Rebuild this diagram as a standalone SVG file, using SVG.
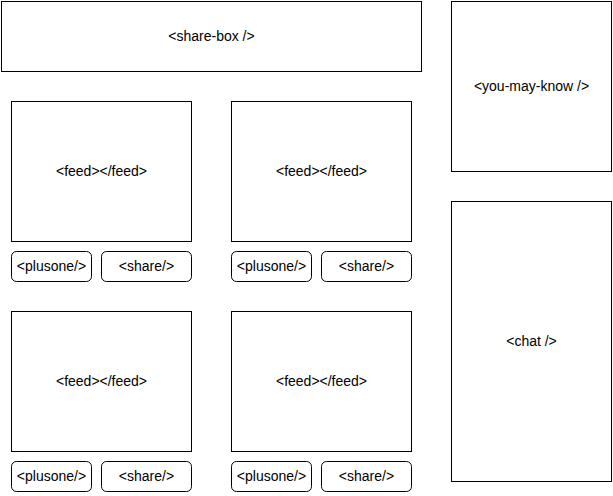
<svg xmlns="http://www.w3.org/2000/svg" width="613" height="496" viewBox="0 0 613 496">
<style>
rect{fill:#fff;stroke:#000;stroke-width:1}
text{font-family:"Liberation Sans",Arial,sans-serif;font-size:14px;fill:#000;text-anchor:middle}
</style>
<rect x="0" y="0" width="613" height="496" style="stroke:none"/>
<g id="share-box"><rect x="1.5" y="1.5" width="420" height="70"/><text x="211.5" y="40.5">&lt;share-box /&gt;</text></g>
<g id="you-may-know"><rect x="451.5" y="1.5" width="160" height="170"/><text x="531.5" y="90.5">&lt;you-may-know /&gt;</text></g>
<g id="chat"><rect x="451.5" y="201.5" width="160" height="280"/><text x="531.5" y="345.5">&lt;chat /&gt;</text></g>
<g id="feed1"><rect x="11.5" y="101.5" width="180" height="140"/><text x="101.5" y="175.5">&lt;feed&gt;&lt;/feed&gt;</text></g>
<g id="feed2"><rect x="231.5" y="101.5" width="180" height="140"/><text x="321.5" y="175.5">&lt;feed&gt;&lt;/feed&gt;</text></g>
<g id="feed3"><rect x="11.5" y="311.5" width="180" height="140"/><text x="101.5" y="385.5">&lt;feed&gt;&lt;/feed&gt;</text></g>
<g id="feed4"><rect x="231.5" y="311.5" width="180" height="140"/><text x="321.5" y="385.5">&lt;feed&gt;&lt;/feed&gt;</text></g>
<g id="plusone1"><rect x="11.5" y="251.5" width="80" height="30" rx="5"/><text x="51.5" y="270.5">&lt;plusone/&gt;</text></g>
<g id="share1"><rect x="101.5" y="251.5" width="90" height="30" rx="5"/><text x="146.5" y="270.5">&lt;share/&gt;</text></g>
<g id="plusone2"><rect x="231.5" y="251.5" width="80" height="30" rx="5"/><text x="271.5" y="270.5">&lt;plusone/&gt;</text></g>
<g id="share2"><rect x="321.5" y="251.5" width="90" height="30" rx="5"/><text x="366.5" y="270.5">&lt;share/&gt;</text></g>
<g id="plusone3"><rect x="11.5" y="461.5" width="80" height="30" rx="5"/><text x="51.5" y="480.5">&lt;plusone/&gt;</text></g>
<g id="share3"><rect x="101.5" y="461.5" width="90" height="30" rx="5"/><text x="146.5" y="480.5">&lt;share/&gt;</text></g>
<g id="plusone4"><rect x="231.5" y="461.5" width="80" height="30" rx="5"/><text x="271.5" y="480.5">&lt;plusone/&gt;</text></g>
<g id="share4"><rect x="321.5" y="461.5" width="90" height="30" rx="5"/><text x="366.5" y="480.5">&lt;share/&gt;</text></g>
<g id="connectors"></g>
</svg>
